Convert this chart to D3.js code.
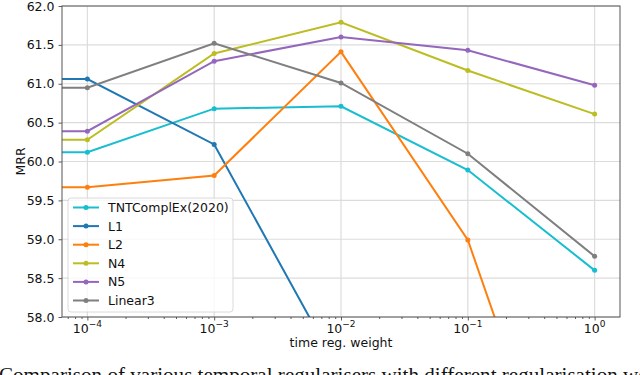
<!DOCTYPE html>
<html><head><meta charset="utf-8">
<script src="https://cdn.jsdelivr.net/npm/d3@7"></script>
<style>
body{margin:0;background:#fff;}
svg{display:block;}
</style></head>
<body>
<svg id="c" width="640" height="375"></svg>
<script>
const xValues = [1e-5, 1e-4, 1e-3, 1e-2, 1e-1, 1];
const seriesNames = ["TNTComplEx(2020)", "L1", "L2", "N4", "N5", "Linear3"];
const seriesColors = ["#17becf", "#1f77b4", "#ff7f0e", "#bcbd22", "#9467bd", "#7f7f7f"];
const tntValues = [60.12, 60.12, 60.68, 60.71, 59.89, 58.60];
const l1Values = [61.06, 61.06, 60.22, 57.26, 56.5, 56.0];
const l2Values = [59.67, 59.67, 59.82, 61.41, 58.99, 54.3];
const n4Values = [60.28, 60.28, 61.39, 61.79, 61.17, 60.61];
const n5Values = [60.39, 60.39, 61.29, 61.60, 61.43, 60.98];
const linear3Values = [60.95, 60.95, 61.52, 61.01, 60.10, 58.78];
const allValues = [tntValues, l1Values, l2Values, n4Values, n5Values, linear3Values];
const yTicks = [58.0, 58.5, 59.0, 59.5, 60.0, 60.5, 61.0, 61.5, 62.0];
const xTicks = [1e-4, 1e-3, 1e-2, 1e-1, 1];
const xTickExp = ["\u22124", "\u22123", "\u22122", "\u22121", "0"];

const svg = d3.select("#c");
const L = 62, R = 620, T = 6, B = 317;
const x = d3.scaleLog().domain([Math.pow(10,-4.2), Math.pow(10,0.2)]).range([L, R]);
const y = d3.scaleLinear().domain([58, 62]).range([B, T]);
const font = "DejaVu Sans, sans-serif";

// grid
const g = svg.append("g");
g.selectAll(".gx").data(xTicks).enter().append("line")
  .attr("x1", d => x(d)).attr("x2", d => x(d)).attr("y1", T).attr("y2", B)
  .attr("stroke", "#dcdcdc").attr("stroke-width", 1.2);
g.selectAll(".gy").data(yTicks).enter().append("line")
  .attr("x1", L).attr("x2", R).attr("y1", d => y(d)).attr("y2", d => y(d))
  .attr("stroke", "#dcdcdc").attr("stroke-width", 1.2);

// clip
svg.append("clipPath").attr("id", "clip").append("rect")
  .attr("x", L).attr("y", T).attr("width", R - L).attr("height", B - T);

const line = d3.line().x(d => x(d[0])).y(d => y(d[1]));
const plot = svg.append("g").attr("clip-path", "url(#clip)");
allValues.forEach((vals, i) => {
  const pts = xValues.map((xv, j) => [xv, vals[j]]);
  plot.append("path").datum(pts).attr("d", line)
    .attr("fill", "none").attr("stroke", seriesColors[i]).attr("stroke-width", 2);
  plot.selectAll(null).data(pts).enter().append("circle")
    .attr("cx", d => x(d[0])).attr("cy", d => y(d[1])).attr("r", 2.5)
    .attr("fill", seriesColors[i]);
});

// axes
const xAxis = d3.axisBottom(x).tickValues(xTicks).tickSize(3.5).tickFormat("");
const xa = svg.append("g").attr("transform", `translate(0,${B})`).call(xAxis);
const minor = [];
for (let e = -5; e <= 0; e++) for (let k = 2; k <= 9; k++) {
  const v = k * Math.pow(10, e);
  if (v > x.domain()[0] && v < x.domain()[1]) minor.push(v);
}
svg.append("g").attr("transform", `translate(0,${B})`)
  .call(d3.axisBottom(x).tickValues(minor).tickSize(2).tickFormat(""))
  .call(s => s.select(".domain").remove());
const yAxis = d3.axisLeft(y).tickValues(yTicks).tickSize(3.5).tickFormat(d3.format(".1f"));
const ya = svg.append("g").attr("transform", `translate(${L},0)`).call(yAxis);
svg.selectAll(".domain").attr("stroke", "none");
svg.selectAll(".tick line").attr("stroke", "#333").attr("stroke-width", 0.8);
ya.selectAll("text").attr("font-family", font).attr("font-size", 12.5).attr("fill", "#111").attr("dx", -1);

// x tick labels with superscripts
xTicks.forEach((v, i) => {
  const t = svg.append("text").attr("x", x(v)).attr("y", B + 16)
    .attr("text-anchor", "middle").attr("font-family", font).attr("font-size", 12.5).attr("fill", "#111");
  t.append("tspan").text("10");
  t.append("tspan").attr("dy", -6).attr("font-size", 9).text(xTickExp[i]);
});

// frame
svg.append("rect").attr("x", L).attr("y", T).attr("width", R - L).attr("height", B - T)
  .attr("fill", "none").attr("stroke", "#555").attr("stroke-width", 1);

// labels
svg.append("text").attr("x", (L + R) / 2).attr("y", B + 30).attr("text-anchor", "middle")
  .attr("font-family", font).attr("font-size", 12.5).attr("fill", "#111").text("time reg. weight");
svg.append("text").attr("transform", `translate(25,${(T + B) / 2}) rotate(-90)`).attr("text-anchor", "middle")
  .attr("font-family", font).attr("font-size", 12.5).attr("fill", "#111").text("MRR");

// legend
const lg = svg.append("g");
lg.append("rect").attr("x", 68).attr("y", 198).attr("width", 165).attr("height", 114).attr("rx", 3)
  .attr("fill", "white").attr("fill-opacity", 0.8).attr("stroke", "#d0d0d0").attr("stroke-width", 0.8);
seriesNames.forEach((n, i) => {
  const yy = 207.5 + i * 18.6;
  lg.append("line").attr("x1", 73).attr("x2", 99).attr("y1", yy).attr("y2", yy)
    .attr("stroke", seriesColors[i]).attr("stroke-width", 2);
  lg.append("circle").attr("cx", 86).attr("cy", yy).attr("r", 2.5).attr("fill", seriesColors[i]);
  lg.append("text").attr("x", 108).attr("y", yy + 4.5).attr("font-family", font).attr("font-size", 12.5)
    .attr("fill", "#111").text(n);
});

// caption
svg.append("text").attr("x", -1).attr("y", 381.5).attr("font-family", "Liberation Serif, Times New Roman, serif")
  .attr("font-size", 21.1).attr("fill", "#111")
  .text("Comparison of various temporal regularisers with different regularisation weights");
</script>
</body></html>
